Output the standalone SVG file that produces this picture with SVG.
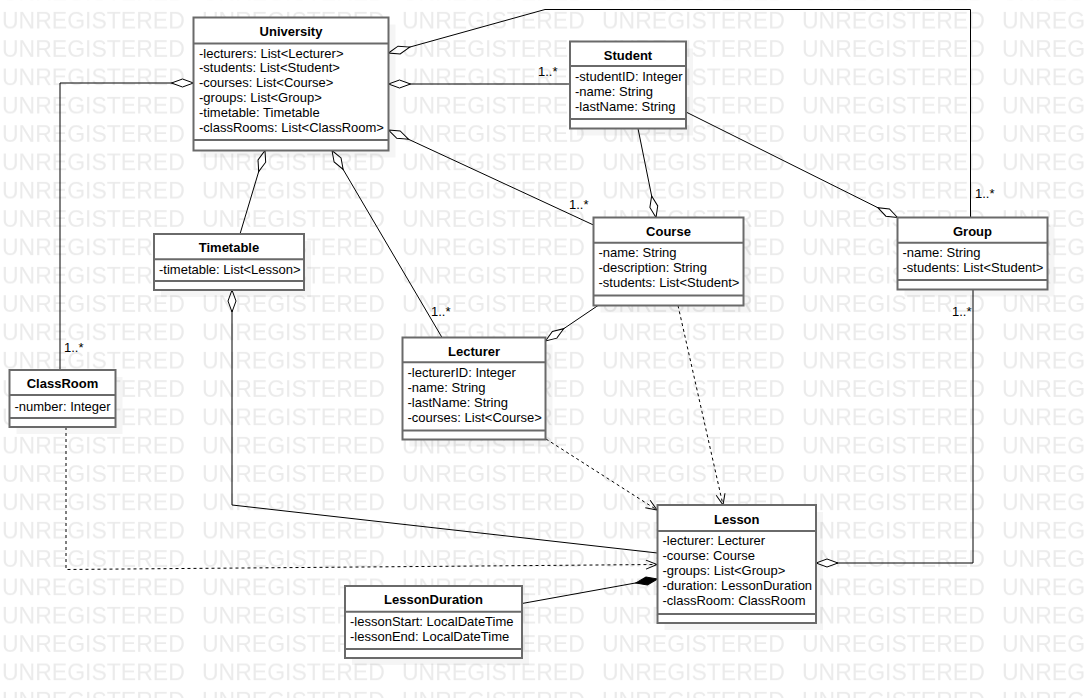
<svg xmlns="http://www.w3.org/2000/svg" width="1087" height="698" viewBox="0 0 1087 698">
<style>
.bg{fill:#fff}
.wm{font-family:"Liberation Sans",Arial,sans-serif;font-size:23px;fill:#ebebeb}
.box{fill:#fff;stroke:#6a6a6a;stroke-width:2}
.sh{fill:#000;fill-opacity:0.04}
.sep{stroke:#6a6a6a;stroke-width:2}
.t{font-family:"Liberation Sans",Arial,sans-serif;font-size:13px;fill:#000}
.tb{font-family:"Liberation Sans",Arial,sans-serif;font-size:13px;font-weight:bold;fill:#000;text-anchor:middle}
.ln{fill:none;stroke:#000;stroke-width:1}
.dash{fill:none;stroke:#000;stroke-width:1;stroke-dasharray:3,3}
.lbl{font-family:"Liberation Sans",Arial,sans-serif;font-size:13px;fill:#000}
</style>
<defs>
<pattern id="wmp" patternUnits="userSpaceOnUse" x="0" y="7" width="200" height="28.333">
<text class="wm" x="2" y="21.8">UNREGISTERED</text>
</pattern>
<marker id="dia" markerUnits="userSpaceOnUse" markerWidth="26" markerHeight="12" refX="1" refY="6" orient="auto">
<path d="M1,6 L12,2 L23,6 L12,10 Z" fill="#fff" stroke="#000" stroke-width="1"/>
</marker>
<marker id="fdia" markerUnits="userSpaceOnUse" markerWidth="26" markerHeight="12" refX="1" refY="6" orient="auto">
<path d="M1,6 L12,2 L23,6 L12,10 Z" fill="#000" stroke="#000" stroke-width="1"/>
</marker>
<marker id="arr" markerUnits="userSpaceOnUse" markerWidth="14" markerHeight="12" refX="12" refY="6" orient="auto">
<path d="M1,1.5 L12,6 L1,10.5" fill="none" stroke="#000" stroke-width="1"/>
</marker>
</defs>
<rect class="bg" x="0" y="0" width="1087" height="698"/>
<rect x="0" y="0" width="1087" height="698" fill="url(#wmp)"/>

<g id="connectors">
<path class="ln" marker-start="url(#dia)" d="M388.5,53 L545,9.5 L970.5,9.5 L970.5,217.5"/>
<path class="ln" marker-start="url(#dia)" d="M388.5,84 L570,84"/>
<path class="ln" marker-start="url(#dia)" d="M193.5,83 L60,83 L60,370"/>
<path class="ln" marker-start="url(#dia)" d="M265,150.5 L240,234"/>
<path class="ln" marker-start="url(#dia)" d="M332,150.5 L442,337.5"/>
<path class="ln" marker-start="url(#dia)" d="M388.5,130 L593.5,225"/>
<path class="ln" marker-start="url(#dia)" d="M656,217.5 L638,128.5"/>
<path class="ln" marker-start="url(#dia)" d="M897.5,217.5 L686,112"/>
<path class="ln" marker-start="url(#dia)" d="M545.5,341 L598,305.5"/>
<path class="dash" marker-end="url(#arr)" d="M678,305.5 L723,505"/>
<path class="dash" marker-end="url(#arr)" d="M546,439 L657,510"/>
<path class="ln" marker-start="url(#dia)" d="M232,290 L232,505 L657.5,553"/>
<path class="dash" marker-end="url(#arr)" d="M66,427 L66,569.5 L657,564.5"/>
<path class="ln" marker-start="url(#fdia)" d="M657.5,579 L522,603.5"/>
<path class="ln" marker-start="url(#dia)" d="M816,563 L973,563 L973,289.5"/>
<text class="lbl" x="975" y="198">1..*</text>
<text class="lbl" x="538" y="76">1..*</text>
<text class="lbl" x="64" y="352">1..*</text>
<text class="lbl" x="431" y="316">1..*</text>
<text class="lbl" x="569" y="209">1..*</text>
<text class="lbl" x="952" y="316">1..*</text>
</g>

<g id="University">
<rect class="sh" x="200.5" y="24.5" width="195" height="133"/>
<rect class="box" x="193.5" y="17.5" width="195" height="133"/>
<line class="sep" x1="193.5" y1="43.5" x2="388.5" y2="43.5"/>
<line class="sep" x1="193.5" y1="140" x2="388.5" y2="140"/>
<text class="tb" x="291" y="36">University</text>
<text class="t" x="199" y="57.5">-lecturers: List&lt;Lecturer&gt;</text>
<text class="t" x="199" y="72.3">-students: List&lt;Student&gt;</text>
<text class="t" x="199" y="87.1">-courses: List&lt;Course&gt;</text>
<text class="t" x="199" y="101.9">-groups: List&lt;Group&gt;</text>
<text class="t" x="199" y="116.7">-timetable: Timetable</text>
<text class="t" x="199" y="131.5">-classRooms: List&lt;ClassRoom&gt;</text>
</g>

<g id="Student">
<rect class="sh" x="577" y="48.5" width="116" height="87"/>
<rect class="box" x="570" y="41.5" width="116" height="87"/>
<line class="sep" x1="570" y1="66" x2="686" y2="66"/>
<line class="sep" x1="570" y1="119" x2="686" y2="119"/>
<text class="tb" x="628" y="59.5">Student</text>
<text class="t" x="575" y="80.5">-studentID: Integer</text>
<text class="t" x="575" y="95.5">-name: String</text>
<text class="t" x="575" y="110.5">-lastName: String</text>
</g>

<g id="Timetable">
<rect class="sh" x="161" y="241" width="150" height="56"/>
<rect class="box" x="154" y="234" width="150" height="56"/>
<line class="sep" x1="154" y1="259.3" x2="304" y2="259.3"/>
<line class="sep" x1="154" y1="281" x2="304" y2="281"/>
<text class="tb" x="229" y="252">Timetable</text>
<text class="t" x="159" y="274">-timetable: List&lt;Lesson&gt;</text>
</g>

<g id="Course">
<rect class="sh" x="600.5" y="224.5" width="150" height="88"/>
<rect class="box" x="593.5" y="217.5" width="150" height="88"/>
<line class="sep" x1="593.5" y1="242.7" x2="743.5" y2="242.7"/>
<line class="sep" x1="593.5" y1="295.5" x2="743.5" y2="295.5"/>
<text class="tb" x="668.5" y="235.5">Course</text>
<text class="t" x="598.5" y="257.3">-name: String</text>
<text class="t" x="598.5" y="272.3">-description: String</text>
<text class="t" x="598.5" y="287.3">-students: List&lt;Student&gt;</text>
</g>

<g id="Group">
<rect class="sh" x="904.5" y="224.5" width="150" height="72"/>
<rect class="box" x="897.5" y="217.5" width="150" height="72"/>
<line class="sep" x1="897.5" y1="242.7" x2="1047.5" y2="242.7"/>
<line class="sep" x1="897.5" y1="280" x2="1047.5" y2="280"/>
<text class="tb" x="972.5" y="235.5">Group</text>
<text class="t" x="902.5" y="257.3">-name: String</text>
<text class="t" x="902.5" y="272.3">-students: List&lt;Student&gt;</text>
</g>

<g id="ClassRoom">
<rect class="sh" x="16.5" y="377" width="106" height="57"/>
<rect class="box" x="9.5" y="370" width="106" height="57"/>
<line class="sep" x1="9.5" y1="395" x2="115.5" y2="395"/>
<line class="sep" x1="9.5" y1="418" x2="115.5" y2="418"/>
<text class="tb" x="62.5" y="388">ClassRoom</text>
<text class="t" x="14.5" y="410.5">-number: Integer</text>
</g>

<g id="Lecturer">
<rect class="sh" x="409.5" y="344.5" width="143" height="102"/>
<rect class="box" x="402.5" y="337.5" width="143" height="102"/>
<line class="sep" x1="402.5" y1="362.3" x2="545.5" y2="362.3"/>
<line class="sep" x1="402.5" y1="430.5" x2="545.5" y2="430.5"/>
<text class="tb" x="474" y="355.5">Lecturer</text>
<text class="t" x="407.5" y="377">-lecturerID: Integer</text>
<text class="t" x="407.5" y="392">-name: String</text>
<text class="t" x="407.5" y="407">-lastName: String</text>
<text class="t" x="407.5" y="422">-courses: List&lt;Course&gt;</text>
</g>

<g id="Lesson">
<rect class="sh" x="664.5" y="512" width="158.5" height="118"/>
<rect class="box" x="657.5" y="505" width="158.5" height="118"/>
<line class="sep" x1="657.5" y1="531" x2="816" y2="531"/>
<line class="sep" x1="657.5" y1="614" x2="816" y2="614"/>
<text class="tb" x="736.75" y="523.5">Lesson</text>
<text class="t" x="662.5" y="545">-lecturer: Lecturer</text>
<text class="t" x="662.5" y="560">-course: Course</text>
<text class="t" x="662.5" y="575">-groups: List&lt;Group&gt;</text>
<text class="t" x="662.5" y="590">-duration: LessonDuration</text>
<text class="t" x="662.5" y="605">-classRoom: ClassRoom</text>
</g>

<g id="LessonDuration">
<rect class="sh" x="352" y="593" width="177" height="72"/>
<rect class="box" x="345" y="586" width="177" height="72"/>
<line class="sep" x1="345" y1="611.7" x2="522" y2="611.7"/>
<line class="sep" x1="345" y1="649" x2="522" y2="649"/>
<text class="tb" x="433.5" y="604">LessonDuration</text>
<text class="t" x="350" y="626">-lessonStart: LocalDateTime</text>
<text class="t" x="350" y="641">-lessonEnd: LocalDateTime</text>
</g>
</svg>
